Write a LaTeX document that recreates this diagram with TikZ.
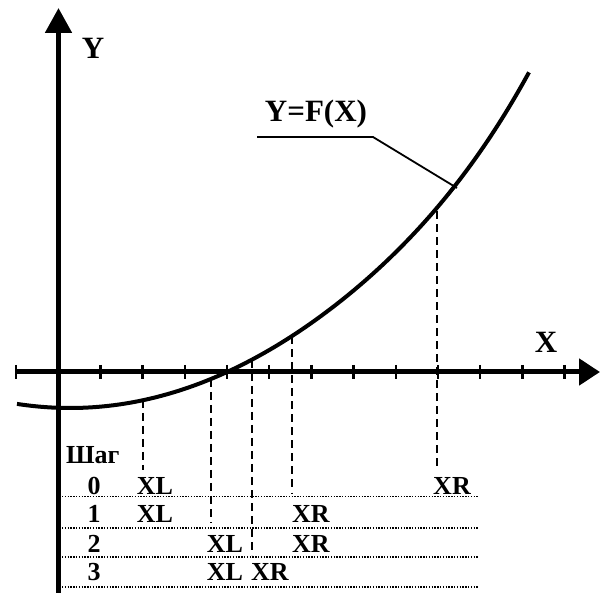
\documentclass[tikz,border=0pt]{standalone}
\usepackage{fontspec}
\setmainfont{Liberation Serif}
\usetikzlibrary{arrows.meta}
\begin{document}
\begin{tikzpicture}[x=1pt,y=-1pt,
  axis/.style={line width=5pt},
  tickmark/.style={line width=2.5pt},
  curve/.style={line width=4pt},
  guide/.style={line width=2.5pt, dash pattern=on 8pt off 5pt},
  rowline/.style={line width=1.5pt, dash pattern=on 1.4pt off 1.4pt},
  lbl/.style={font=\fontsize{26}{26}\selectfont\bfseries, inner sep=0pt, anchor=base},
  biglbl/.style={font=\fontsize{31}{31}\selectfont\bfseries, inner sep=0pt, anchor=base},
  leader/.style={line width=1.8pt}]
\useasboundingbox (0,0) rectangle (608,593);
% axes
\coordinate (ybot) at (58.5,593);
\coordinate (ytop) at (58.5,8);
\coordinate (xl) at (16,372);
\coordinate (xr) at (600,372);
\draw[axis,-{Triangle[length=25pt,width=26pt]}] (ybot) -- (ytop);
\draw[axis,-{Triangle[length=21pt,width=26pt]}] (xl) -- (xr);
% ticks
\foreach \k in {0,...,13}{
  \draw[tickmark] ({16+42.2*\k},365) -- ({16+42.2*\k},379);
}
% curve
\draw[curve] plot[domain=17:529, samples=150] (\x, {408 - 14.6*((\x-70)/100)^2 - 1.02*pow(max(0,(\x-300)/100),4)});
% guide lines
\coordinate (c0) at (143,400); \coordinate (b0) at (143,470);
\coordinate (c1) at (211,379); \coordinate (b1) at (211,523);
\coordinate (c2) at (252,360); \coordinate (b2) at (252,555);
\coordinate (c3) at (292,336.5); \coordinate (b3) at (292,493);
\coordinate (c4) at (437,211.5); \coordinate (b4) at (437,467);
\draw[guide] (c0) -- (b0);
\draw[guide] (c1) -- (b1);
\draw[guide] (c2) -- (b2);
\draw[guide] (c3) -- (b3);
\draw[guide] (c4) -- (b4);
% labels
\node[biglbl] (ylab) at (93,59) {Y};
\node[biglbl] (xlab) at (546,353) {X};
\node[biglbl] (flab) at (316,122) {Y=F(X)};
\coordinate (l1) at (257,137);
\coordinate (l2) at (373,137);
\coordinate (l3) at (457,188);
\draw[leader] (l1) -- (l2) -- (l3);
% table
\node[lbl, anchor=base west] (shag) at (66,464) {Шаг};
\foreach \r/\yb/\yl in {0/494/496.5, 1/522/528, 2/552/557, 3/580/587}{
  \node[lbl] (n\r) at (94,\yb) {\r};
  \draw[rowline] (62,\yl) -- (478,\yl);
}
\node[lbl] (xl0) at (155,494) {XL};
\node[lbl] (xr0) at (452,494) {XR};
\node[lbl] (xl1) at (155,522) {XL};
\node[lbl] (xr1) at (311,522) {XR};
\node[lbl] (xl2) at (225,552) {XL};
\node[lbl] (xr2) at (311,552) {XR};
\node[lbl] (xl3) at (225,580) {XL};
\node[lbl] (xr3) at (270,580) {XR};
\end{tikzpicture}
\end{document}
